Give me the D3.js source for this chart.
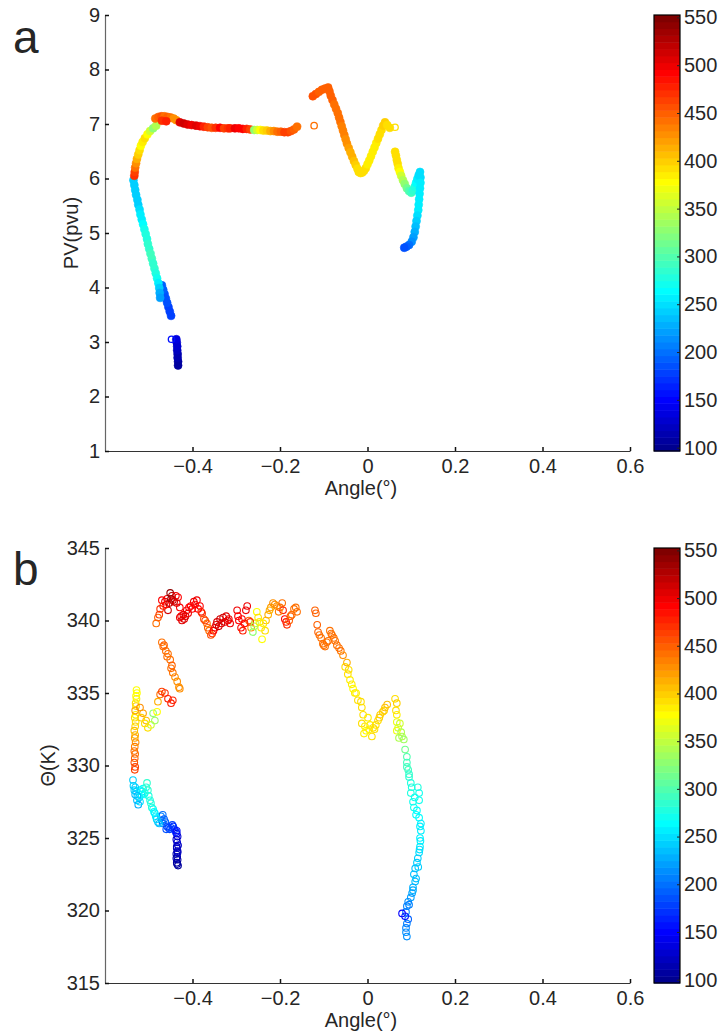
<!DOCTYPE html>
<html><head><meta charset="utf-8">
<script src="https://cdn.jsdelivr.net/npm/d3@7"></script>
<style>
body{margin:0;background:#fff}
svg{display:block}
text{font-family:"Liberation Sans",Arial,Helvetica,sans-serif;fill:#262626}
</style>
</head><body>
<svg id="chart" width="720" height="1036"></svg>
<script>
// ---------- Panel a : PV vs angle (filled markers) ----------
const angleA = [
 -0.433,-0.433,-0.434,-0.434,-0.435,-0.435,-0.436,-0.437,
 -0.449,-0.452,-0.455,-0.458,-0.461,-0.464,-0.467,-0.470,
 -0.535,-0.533,-0.531,-0.529,-0.526,-0.524,-0.521,-0.519,-0.516,-0.513,-0.510,-0.507,-0.504,-0.502,-0.499,-0.496,-0.493,-0.490,-0.487,-0.484,-0.481,-0.478,-0.476,-0.475,-0.474,
 -0.533,-0.532,-0.531,-0.529,-0.527,-0.524,-0.521,-0.518,-0.514,-0.509,-0.503,-0.497,-0.490,-0.483,
 -0.485,-0.478,-0.471,-0.464,-0.457,-0.450,-0.443,-0.437,-0.470,-0.460,
 -0.429,-0.420,-0.411,-0.402,-0.392,-0.383,-0.374,-0.365,-0.356,-0.347,-0.337,-0.328,-0.319,-0.314,
 -0.303,-0.294,-0.285,-0.276,-0.268,-0.259,-0.252,-0.245,-0.238,-0.230,-0.222,-0.214,-0.206,-0.198,-0.190,-0.182,-0.175,-0.168,-0.161,
 -0.125,-0.118,-0.111,-0.104,-0.097,-0.090,-0.087,-0.084,-0.080,-0.076,-0.072,-0.068,-0.065,-0.062,-0.059,-0.056,-0.053,-0.050,-0.047,-0.043,-0.039,-0.035,-0.031,-0.027,-0.023,
 -0.020,-0.016,-0.012,-0.008,-0.004,0.000,0.004,0.008,0.012,0.016,0.020,0.024,0.028,0.032,0.036,0.040,0.045,0.051,
 0.063,0.065,0.067,0.069,0.071,0.074,0.077,0.081,0.085,0.090,0.095,0.100,0.104,0.108,0.111,0.114,0.117,0.120,
 0.121,0.121,0.120,0.119,0.118,0.117,0.116,0.114,0.112,0.110,0.108,0.105,0.101,0.095,0.089,0.084
];
const pvA = [
 2.57,2.64,2.71,2.78,2.85,2.92,2.99,3.05,
 3.48,3.56,3.64,3.72,3.80,3.88,3.96,4.04,
 5.97,5.88,5.79,5.70,5.61,5.52,5.43,5.34,5.25,5.16,5.07,4.98,4.89,4.80,4.71,4.62,4.53,4.44,4.35,4.26,4.17,4.08,3.99,3.90,3.81,
 6.05,6.12,6.20,6.28,6.36,6.44,6.52,6.60,6.67,6.74,6.81,6.87,6.92,6.97,
 7.10,7.13,7.14,7.14,7.13,7.12,7.10,7.07,7.06,7.05,
 7.03,7.01,6.99,6.98,6.97,6.96,6.95,6.94,6.93,6.93,6.93,6.92,6.92,6.92,
 6.92,6.92,6.91,6.91,6.90,6.89,6.89,6.89,6.88,6.88,6.87,6.87,6.86,6.86,6.85,6.85,6.87,6.90,6.95,
 7.51,7.55,7.59,7.63,7.65,7.67,7.60,7.52,7.44,7.36,7.28,7.20,7.12,7.04,6.96,6.88,6.80,6.72,6.64,6.56,6.48,6.40,6.32,6.25,6.18,
 6.12,6.10,6.11,6.14,6.19,6.26,6.33,6.41,6.49,6.57,6.65,6.73,6.81,6.89,6.97,7.03,6.98,6.93,
 6.49,6.42,6.34,6.27,6.19,6.12,6.05,5.97,5.90,5.82,5.77,5.74,5.78,5.85,5.92,5.99,6.06,6.12,
 6.02,5.92,5.82,5.72,5.62,5.52,5.42,5.32,5.22,5.12,5.02,4.92,4.84,4.78,4.75,4.73
];
const altA = [
 105,108,112,116,120,125,130,135,
 175,178,180,182,185,188,192,195,
 245,242,240,240,242,246,250,255,260,265,270,275,280,285,288,290,290,288,285,280,270,255,240,228,220,
 470,460,440,430,415,400,390,380,385,395,380,360,330,345,
 440,450,455,445,450,440,430,425,470,480,
 505,510,505,500,505,500,480,460,455,470,490,460,470,480,
 500,495,490,480,460,330,360,380,390,400,415,425,440,450,460,465,455,450,445,
 455,455,450,450,450,450,450,448,446,445,444,442,440,440,438,435,432,430,425,420,415,410,405,400,395,
 390,392,395,392,390,388,386,385,385,386,388,390,392,395,398,400,395,390,
 395,395,392,390,385,375,360,345,330,315,300,292,285,275,265,258,252,248,
 250,255,258,260,260,258,255,250,245,238,230,222,212,202,195,188
];
// isolated open markers in panel a
const ringAngleA = [-0.448,-0.122,0.063];
const ringPvA    = [3.05,6.97,6.94];
const ringAltA   = [160,445,395];

// ---------- Panel b : Theta vs angle (open markers) ----------
const angleB = [
 -0.433,-0.436,-0.434,-0.435,-0.437,-0.434,-0.436,-0.433,-0.435,-0.437,-0.434,-0.436,-0.435,-0.437,-0.434,-0.436,
 -0.472,-0.468,-0.465,-0.468,-0.462,-0.458,-0.455,-0.452,-0.449,-0.446,-0.444,-0.441,-0.438,-0.436,-0.460,-0.470,
 -0.536,-0.535,-0.533,-0.531,-0.529,-0.527,-0.524,-0.522,-0.520,-0.517,-0.515,-0.513,-0.511,-0.509,-0.506,-0.504,-0.502,-0.500,-0.497,-0.495,-0.493,-0.490,-0.488,-0.486,-0.484,-0.482,-0.479,-0.476,-0.531,-0.526,-0.520,
 -0.532,-0.531,-0.533,-0.532,-0.531,-0.533,-0.532,-0.530,-0.532,-0.531,-0.533,-0.531,-0.530,-0.532,-0.530,-0.531,-0.529,-0.530,-0.528,-0.529,-0.527,-0.528,
 -0.520,-0.513,-0.506,-0.502,-0.495,-0.490,-0.486,-0.481,-0.479,-0.474,-0.470,-0.463,-0.456,-0.449,-0.445,-0.517,-0.509,
 -0.470,-0.467,-0.461,-0.456,-0.451,-0.447,-0.445,-0.440,-0.435,-0.431,-0.429,-0.465,-0.458,-0.449,
 -0.483,-0.479,-0.474,-0.470,-0.463,-0.458,-0.456,-0.451,-0.447,-0.445,-0.438,-0.433,-0.429,-0.429,-0.424,-0.419,-0.413,-0.408,-0.401,-0.397,-0.390,-0.383,-0.378,-0.374,-0.367,-0.362,-0.355,-0.349,-0.344,-0.337,-0.330,-0.326,-0.319,-0.314,
 -0.476,-0.467,-0.460,-0.453,-0.449,-0.442,-0.436,-0.426,-0.421,-0.416,-0.410,-0.404,-0.394,-0.387,-0.380,-0.371,-0.365,-0.358,-0.352,-0.346,-0.340,-0.334,-0.323,-0.317,
 -0.298,-0.294,-0.289,-0.285,-0.278,-0.275,-0.271,-0.266,-0.262,-0.257,-0.253,-0.250,-0.243,-0.241,-0.234,-0.232,-0.227,-0.221,-0.216,-0.207,-0.200,-0.195,-0.193,-0.189,-0.184,-0.179,-0.173,-0.168,-0.161,
 -0.296,-0.287,-0.281,-0.268,-0.259,-0.247,-0.238,-0.224,-0.212,-0.203,-0.186,-0.176,-0.164,
 -0.120,-0.118,
 -0.115,-0.113,-0.106,-0.102,-0.097,-0.090,-0.086,-0.081,-0.074,-0.070,-0.061,-0.056,-0.051,-0.047,-0.045,-0.040,-0.033,-0.026,-0.022,-0.015,
 -0.110,-0.100,-0.093,-0.083,-0.077,-0.065,-0.043,-0.036,-0.029,
 -0.013,-0.010,-0.013,-0.006,-0.003,0.001,0.006,0.010,0.013,0.019,0.024,0.029,0.035,0.040,0.045,
 -0.008,0.004,0.016,0.027,0.038,
 0.063,0.067,0.065,0.067,0.067,0.070,0.067,0.074,0.077,0.079,0.072,0.083,0.086,0.090,0.090,0.093,0.095,
 0.090,0.095,0.099,0.099,0.104,0.106,0.115,0.118,0.118,0.113,0.118,0.122,0.122,0.120,0.120,0.118,0.115,0.113,0.109,0.106,0.109,0.104,0.102,0.099,0.093,0.090,0.088,0.079,0.093,0.090,0.088,0.088,0.090,
 0.101,0.108,0.111,0.120,0.121,0.119,0.116,0.111,0.104,0.095,0.086
];
const thetaB = [
 323.1,323.3,323.5,323.7,323.9,324.1,324.3,324.5,324.7,324.9,325.1,325.3,323.2,323.6,324.0,324.4,
 326.5,326.6,326.3,326.0,326.1,325.8,325.7,325.6,325.7,325.9,325.8,325.6,325.4,325.5,325.6,326.2,
 329.0,328.6,328.3,328.0,328.2,327.6,327.3,327.8,328.3,328.0,328.2,328.4,328.0,328.1,328.5,328.8,328.3,327.9,327.6,327.4,327.1,327.0,326.8,326.7,326.5,326.3,326.1,326.0,328.5,327.9,327.5,
 329.7,329.9,330.2,330.5,330.8,331.0,331.3,331.6,331.9,332.1,332.4,332.7,333.0,333.3,333.5,333.8,334.1,334.3,334.6,334.8,335.0,335.2,
 334.0,333.6,333.1,332.6,332.8,333.6,333.1,333.7,334.4,334.9,335.1,335.0,334.6,334.3,334.5,333.3,332.9,
 338.5,338.2,337.9,337.7,337.3,336.9,336.4,336.1,335.8,335.4,335.3,338.3,337.5,336.7,
 339.8,340.2,340.8,341.4,341.3,341.5,340.7,341.9,341.7,341.4,341.7,341.6,340.9,340.2,340.0,340.1,340.7,340.9,340.8,341.3,341.4,341.0,340.5,340.1,339.8,339.3,339.1,339.5,339.9,340.1,340.2,339.9,340.0,339.8,
 340.4,341.0,341.1,341.2,341.5,341.3,341.2,340.3,340.4,340.3,340.5,341.0,341.1,340.8,340.6,340.0,339.5,339.0,339.3,339.7,339.6,339.8,340.3,340.1,
 340.7,340.0,339.5,339.3,340.7,341.0,340.0,339.5,339.2,339.8,340.6,340.2,339.5,338.7,339.3,340.0,340.4,340.9,341.2,341.0,340.9,341.2,340.7,340.1,339.7,340.0,340.4,340.8,340.6,
 340.3,340.1,339.8,339.9,339.6,339.9,339.8,340.7,341.1,340.6,339.9,340.3,340.9,
 340.7,340.5,
 339.7,339.2,338.8,338.4,338.2,338.6,339.3,339.0,338.6,338.3,337.9,337.6,336.8,337.1,336.3,335.9,335.3,335.0,334.5,334.4,
 339.0,338.3,338.5,339.1,338.8,338.1,336.6,335.6,335.0,
 334.0,333.5,332.9,332.7,332.4,333.3,332.8,332.0,332.6,332.8,333.1,333.5,333.7,334.0,334.2,
 332.2,332.5,332.5,333.3,333.8,
 334.6,334.3,333.8,333.5,333.0,332.6,332.4,332.9,332.3,332.0,331.9,331.8,331.1,330.6,330.2,329.7,329.2,
 329.9,329.4,328.8,328.1,327.5,327.1,328.5,328.1,327.6,326.9,326.4,326.0,325.5,325.0,324.4,324.0,323.6,323.3,322.9,322.5,322.0,321.6,321.2,320.9,320.6,320.3,319.9,319.8,319.4,319.1,318.8,318.5,318.2,
 328.5,327.8,326.6,325.8,324.8,324.2,323.0,322.2,321.4,320.4,319.6
];
const altB = [
 105,108,110,112,115,118,120,122,125,128,130,135,108,112,118,122,
 205,200,195,195,190,185,180,178,175,175,172,170,165,160,185,200,
 245,242,240,238,240,236,230,245,255,255,258,262,265,268,275,285,282,280,280,278,275,270,265,260,255,250,245,235,240,238,250,
 465,460,455,450,445,440,435,430,420,415,405,400,395,390,385,420,400,390,385,380,378,380,
 430,420,405,390,360,330,335,380,410,440,465,470,480,480,480,400,395,
 445,445,440,440,445,450,440,430,425,430,425,450,445,440,
 440,450,470,490,500,500,510,540,530,510,500,495,495,500,505,505,500,495,495,500,500,490,470,455,445,440,470,500,505,510,510,505,500,500,
 460,480,495,520,535,515,505,500,500,505,500,495,495,495,480,460,450,455,490,505,510,505,505,500,
 500,490,495,480,500,500,450,430,330,350,380,390,385,380,390,405,410,420,425,430,440,440,480,490,470,450,445,440,440,
 495,490,485,470,340,385,385,415,428,435,480,448,440,
 450,450,
 450,450,445,440,440,440,440,440,440,440,440,430,395,415,390,385,380,385,390,395,
 445,440,440,440,440,440,395,385,385,
 390,390,390,385,380,385,385,390,390,395,395,400,400,405,405,
 385,385,392,398,402,
 395,400,395,385,370,360,370,355,345,340,340,335,315,300,295,290,285,
 290,285,280,275,270,268,275,272,270,265,262,260,258,255,255,250,245,242,238,235,232,228,222,218,212,208,205,150,195,205,210,215,215,
 278,270,266,260,256,252,242,235,225,210,160
];

// ---------- ticks ----------
const angleTicks = [-0.4,-0.2,0,0.2,0.4,0.6];
const pvTicks = [1,2,3,4,5,6,7,8,9];
const thetaTicks = [315,320,325,330,335,340,345];
const colorTicks = [100,150,200,250,300,350,400,450,500,550];
const colorLimits = [96.5,552.5];

if (angleA.length!==pvA.length || angleA.length!==altA.length) throw new Error("A lengths "+angleA.length+" "+pvA.length+" "+altA.length);
if (angleB.length!==thetaB.length || angleB.length!==altB.length) throw new Error("B lengths "+angleB.length+" "+thetaB.length+" "+altB.length);

// MATLAB jet(n)
function jetColors(n){
  const m = Math.ceil(n/4);
  const u = [];
  for(let i=1;i<=m;i++) u.push(i/m);
  for(let i=0;i<m-1;i++) u.push(1);
  for(let i=m;i>=1;i--) u.push(i/m);
  const base = Math.ceil(m/2) - (n%4===1?1:0);
  const L = u.length;
  const g = d3.range(1,L+1).map(k=>base+k);
  const rr = g.map(v=>v+m).filter(v=>v<=n);
  const gg = g.filter(v=>v<=n);
  const bb = g.map(v=>v-m).filter(v=>v>=1);
  const J = d3.range(n).map(()=>[0,0,0]);
  rr.forEach((row,i)=>J[row-1][0]=u[i]);
  gg.forEach((row,i)=>J[row-1][1]=u[i]);
  bb.forEach((row,i)=>J[row-1][2]=u[L-bb.length+i]);
  return J.map(c=>d3.rgb(Math.round(c[0]*255),Math.round(c[1]*255),Math.round(c[2]*255)).formatHex());
}
const jet = jetColors(64);
const color = d3.scaleQuantize().domain(colorLimits).range(jet);

const svg = d3.select("#chart");
const X0 = 105, X1 = 630, CBX = 654, CBW = 26;
const x = d3.scaleLinear().domain([-0.6,0.6]).range([X0,X1]);

function panel(opts){
  const {y, ticks, label, labelX, letter, letterY, top, bottom} = opts;
  const g = svg.append("g");
  // x axis
  const xa = g.append("g").attr("transform",`translate(0,${bottom})`)
    .call(d3.axisBottom(x).tickValues(angleTicks).tickSizeInner(-4).tickSizeOuter(0).tickPadding(7.5)
      .tickFormat(d=> d===0 ? "0" : d3.format(".1f")(d).replace("-","\u2212")));
  xa.select(".domain").attr("stroke","#333").attr("stroke-width",1);
  xa.selectAll(".tick line").attr("stroke","#111").attr("stroke-width",1.5);
  xa.selectAll(".tick text").attr("font-size",20).attr("fill","#262626").attr("font-family",null);
  // y axis
  const ya = g.append("g").attr("transform",`translate(${X0},0)`)
    .call(d3.axisLeft(y).tickValues(ticks).tickSizeInner(-4).tickSizeOuter(0).tickPadding(5).tickFormat(d3.format("d")));
  ya.select(".domain").attr("stroke","#666").attr("stroke-width",1.2);
  ya.selectAll(".tick line").attr("stroke","#111").attr("stroke-width",1.5);
  ya.selectAll(".tick text").attr("font-size",20).attr("fill","#262626").attr("font-family",null);
  // axis labels
  g.append("text").attr("x",361).attr("y",bottom+44.2).attr("text-anchor","middle")
    .attr("font-size",20).text("Angle(\u00b0)");
  g.append("text").attr("transform",`translate(${labelX},${(top+bottom)/2}) rotate(-90)`)
    .attr("text-anchor","middle").attr("font-size",20).text(label);
  g.append("text").attr("x",13).attr("y",letterY).attr("font-size",46).text(letter);
  // colorbar
  const cy = d3.scaleLinear().domain(colorLimits).range([bottom,top]);
  const cb = g.append("g");
  const step = (colorLimits[1]-colorLimits[0])/jet.length;
  cb.selectAll("rect.band").data(jet).join("rect").attr("class","band")
    .attr("x",CBX).attr("width",CBW)
    .attr("y",(d,i)=>cy(colorLimits[0]+(i+1)*step))
    .attr("height",(d,i)=>cy(colorLimits[0]+i*step)-cy(colorLimits[0]+(i+1)*step)+0.5)
    .attr("fill",d=>d);
  cb.append("rect").attr("x",CBX).attr("y",top).attr("width",CBW).attr("height",bottom-top)
    .attr("fill","none").attr("stroke","#000").attr("stroke-width",1.2);
  const ca = cb.append("g").attr("transform",`translate(${CBX+CBW},0)`)
    .call(d3.axisRight(cy).tickValues(colorTicks).tickSizeInner(-3).tickSizeOuter(0).tickPadding(4).tickFormat(d3.format("d")));
  ca.select(".domain").remove();
  ca.selectAll(".tick line").attr("stroke","#222");
  ca.selectAll(".tick text").attr("font-size",20).attr("fill","#262626").attr("font-family",null);
  return g;
}

const yA = d3.scaleLinear().domain([1,9]).range([451,15]);
const yB = d3.scaleLinear().domain([315,345]).range([983,548]);

const gA = panel({y:yA, ticks:pvTicks, label:"PV(pvu)", labelX:78, letter:"a", letterY:53, top:15, bottom:451});
const gB = panel({y:yB, ticks:thetaTicks, label:"\u0398(K)", labelX:55, letter:"b", letterY:585, top:548, bottom:983});

// panel a markers
const dataA = angleA.map((a,i)=>({a, v:pvA[i], c:altA[i]}));
gA.append("g").selectAll("circle").data(dataA).join("circle")
  .attr("cx",d=>x(d.a)).attr("cy",d=>yA(d.v)).attr("r",4)
  .attr("fill",d=>color(d.c)).attr("stroke",d=>color(d.c)).attr("stroke-width",0.6);
const ringsA = ringAngleA.map((a,i)=>({a, v:ringPvA[i], c:ringAltA[i]}));
gA.append("g").selectAll("circle").data(ringsA).join("circle")
  .attr("cx",d=>x(d.a)).attr("cy",d=>yA(d.v)).attr("r",3.2)
  .attr("fill","none").attr("stroke",d=>color(d.c)).attr("stroke-width",1.3);

// panel b markers
const dataB = angleB.map((a,i)=>({a, v:thetaB[i], c:altB[i]}));
gB.append("g").selectAll("circle").data(dataB).join("circle")
  .attr("cx",d=>x(d.a)).attr("cy",d=>yB(d.v)).attr("r",3.3)
  .attr("fill","none").attr("stroke",d=>color(d.c)).attr("stroke-width",1.1);
</script>
</body></html>
